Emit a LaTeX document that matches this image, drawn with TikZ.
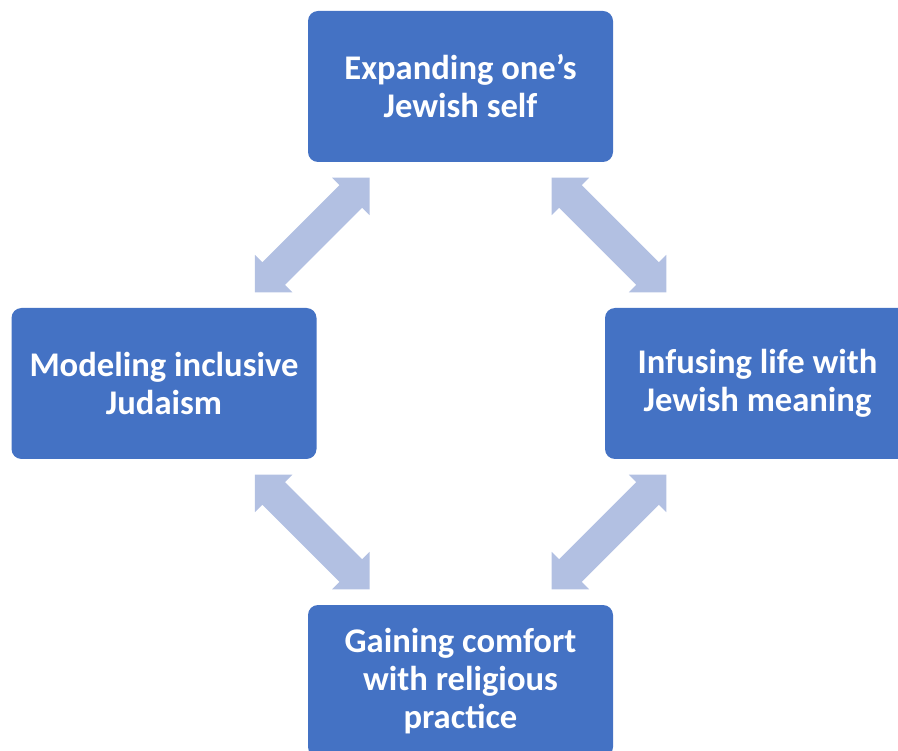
\documentclass[tikz,border=0pt]{standalone}
\usepackage{fontspec}
\setmainfont{Carlito}
\usetikzlibrary{calc}
\definecolor{boxblue}{RGB}{68,114,196}
\definecolor{arrowblue}{RGB}{178,192,226}
\tikzset{
  stagebox/.style={rectangle, rounded corners=10pt, fill=boxblue, text=white,
    minimum width=305pt, minimum height=151pt, inner sep=0pt, align=center,
    font=\fontsize{34.6}{38}\selectfont\bfseries},
  blockarrow/.style={fill=arrowblue}
}
\newcommand\dblblockarrow[2]{%
  \fill[blockarrow, shift={(#1)}, rotate=#2]
    (-81,0) -- (-54.5,26.5) -- (-54.5,16) -- (54.5,16) -- (54.5,26.5) -- (81,0)
    -- (54.5,-26.5) -- (54.5,-16) -- (-54.5,-16) -- (-54.5,-26.5) -- cycle;}
\begin{document}
\begin{tikzpicture}[x=1pt,y=-1pt]
\useasboundingbox (0,0) rectangle (898,751);
\clip (0,0) rectangle (898,751);
\node[stagebox] (top) at (460.5,86.5) {Expanding one’s\\Jewish self};
\node[stagebox] (left) at (164,383.5) {Modeling inclusive\\Judaism};
\node[stagebox] (right) at (757.5,383.5) {Infusing life with\\Jewish meaning};
\node[stagebox, minimum height=152pt] (bottom) at (460.5,681) {Gaining comfort\\with religious\\practice};
\coordinate (tl) at ($(top.south west)!0.5!(left.north east)$);
\coordinate (tr) at ($(top.south east)!0.5!(right.north west)$);
\coordinate (bl) at ($(left.south east)!0.5!(bottom.north west)$);
\coordinate (br) at ($(right.south west)!0.5!(bottom.north east)$);
\dblblockarrow{tl}{45}
\dblblockarrow{tr}{-45}
\dblblockarrow{bl}{-45}
\dblblockarrow{br}{45}
\end{tikzpicture}
\end{document}
